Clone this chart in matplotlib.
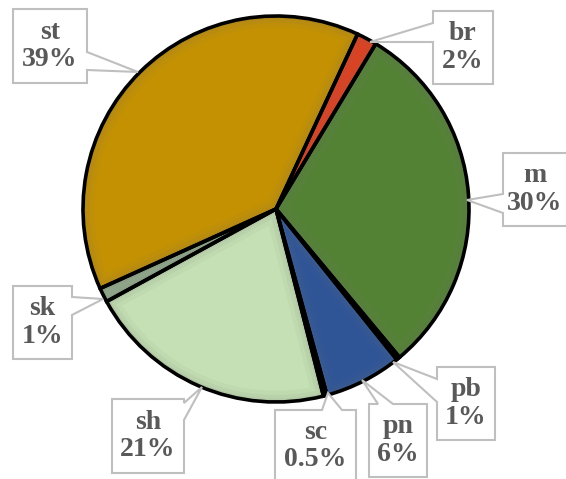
import matplotlib.pyplot as plt
from matplotlib.patches import Polygon, Wedge
from matplotlib.colors import to_rgb

# dados do grafico (sentido horario a partir de br)
rotulos = ['br', 'm', 'pb', 'pn', 'sc', 'sh', 'sk', 'st']
valores = [1.7, 30.3, 0.3, 6.5, 0.3, 21.0, 1.2, 38.7]
textos = ['2%', '30%', '1%', '6%', '0.5%', '21%', '1%', '39%']
cores = ['#E0401E', '#548235', '#FFC000', '#2F5597', '#5B9BD5',
         '#C5E0B4', '#93AB8C', '#C49102']

# caixas dos rotulos em pixels (x0, y0, x1, y1, lado, base1, base2, ponta)
caixas = {
    'st': (13, 9, 87, 83, 'r', 52, 70, (138, 72)),
    'br': (433, 11, 493, 84, 'l', 23, 42, (370, 42)),
    'm': (503, 153, 567, 226, 'l', 194, 213, (467, 200)),
    'pb': (437, 367, 495, 440, 'l', 379, 402, (393, 362)),
    'pn': (369, 404, 427, 477, 't', 378, 393, (362, 380)),
    'sc': (275, 410, 356, 482, 't', 322, 342, (328, 393)),
    'sh': (112, 399, 184, 473, 'r', 403, 420, (202, 387)),
    'sk': (13, 286, 72, 359, 'r', 297, 315, (103, 299)),
}

H = 479
fig = plt.figure(figsize=(5.66, 4.79), dpi=100)
ax = fig.add_axes([0, 0, 1, 1])

cx, cy, r = 276, H - 209, 193
fatias, _ = ax.pie(valores, colors=cores, startangle=65, counterclock=False,
                   center=(cx, cy), radius=r,
                   wedgeprops=dict(edgecolor='none', linewidth=0))
ax.set_xlim(0, 566)
ax.set_ylim(0, H)
ax.set_aspect('equal')
ax.axis('off')

# efeito de borda suave dentro de cada fatia
for f, c in zip(fatias, cores):
    rgb = to_rgb(c)
    escuro = tuple(0.55 * v + 0.45 * 0.45 for v in rgb)
    for lw, a in [(16, 0.12), (10, 0.18), (5, 0.25)]:
        w = Wedge((cx, cy), r, f.theta1, f.theta2, fc='none', ec=escuro,
                  lw=lw, alpha=a, zorder=1.5)
        ax.add_patch(w)
        w.set_clip_path(f)
    ax.add_patch(Wedge((cx, cy), r, f.theta1, f.theta2, fc='none',
                       ec='black', lw=2.6, zorder=2))


# monta o contorno da caixa com a seta (callout)
def callout(x0, y0, x1, y1, lado, b1, b2, ponta):
    p = (ponta[0], H - ponta[1])
    if lado == 'r':
        pts = [(x0, y0), (x1, y0), (x1, b1), p, (x1, b2), (x1, y1), (x0, y1)]
    elif lado == 'l':
        pts = [(x0, y0), (x1, y0), (x1, y1), (x0, y1), (x0, b2), p, (x0, b1)]
    else:
        pts = [(x0, y0), (b1, y0), p, (b2, y0), (x1, y0), (x1, y1), (x0, y1)]
    pts = [(a, H - b) if (a, b) != p else p for a, b in pts]
    return pts


for nome, t in zip(rotulos, textos):
    x0, y0, x1, y1, lado, b1, b2, ponta = caixas[nome]
    pts = callout(x0, y0, x1, y1, lado, b1, b2, ponta)
    ax.add_patch(Polygon(pts, closed=True, fc='white', ec='#BFBFBF', lw=1.5,
                         clip_on=False, zorder=3))
    ax.text((x0 + x1) / 2, H - (y0 + y1) / 2, nome + '\n' + t,
            ha='center', va='center', fontsize=20, fontweight='bold',
            family='Liberation Serif', color='#595959', zorder=4,
            linespacing=1.15)

fig.savefig('out.png', dpi=100)
